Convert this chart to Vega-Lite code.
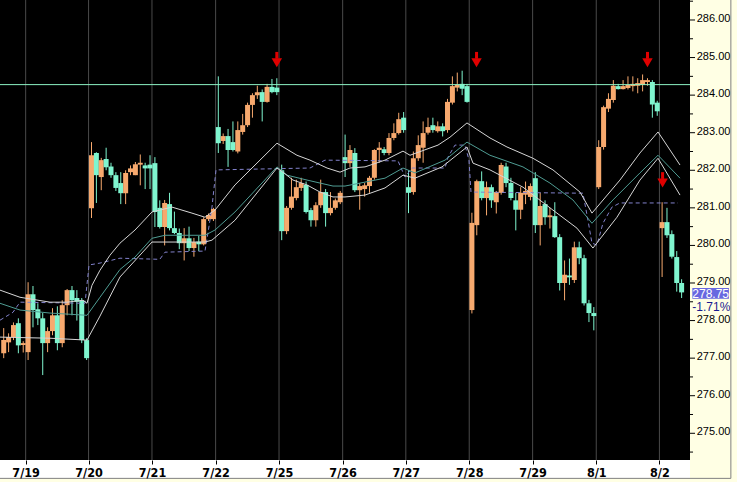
{
  "$schema": "https://vega.github.io/schema/vega-lite/v6.json",
  "width": 690,
  "height": 460,
  "autosize": {"type": "none"},
  "padding": {"left": 0, "top": 0, "right": 47, "bottom": 22},
  "background": "#FFFFE4",
  "view": {"fill": "#000000", "stroke": null},
  "config": {
    "axisX": {"labelColor": "#000000", "tickColor": "#000000"}
  },
  "datasets": {
    "days": [
      {"d": "7/19", "g": -0.5}, {"d": "7/20", "g": 12.4}, {"d": "7/21", "g": 25.4}, {"d": "7/22", "g": 38.45},
      {"d": "7/25", "g": 51.45}, {"d": "7/26", "g": 64.5}, {"d": "7/27", "g": 77.45}, {"d": "7/28", "g": 90.45},
      {"d": "7/29", "g": 103.45}, {"d": "8/1", "g": 116.5}, {"d": "8/2", "g": 129.45}
    ],
    "ymaj": [
      {"v": 275}, {"v": 276}, {"v": 277}, {"v": 278}, {"v": 279}, {"v": 280},
      {"v": 281}, {"v": 282}, {"v": 283}, {"v": 284}, {"v": 285}, {"v": 286}
    ],
    "ymin": [
      {"v": 274.5}, {"v": 275.5}, {"v": 276.5}, {"v": 277.5}, {"v": 278.5}, {"v": 279.5},
      {"v": 280.5}, {"v": 281.5}, {"v": 282.5}, {"v": 283.5}, {"v": 284.5}, {"v": 285.5}, {"v": 286.5}
    ],
    "bars": [
      {"i": -5, "o": 277.13, "h": 277.8, "l": 277.0, "c": 277.48},
      {"i": -4, "o": 277.42, "h": 277.66, "l": 277.16, "c": 277.56},
      {"i": -3, "o": 277.56, "h": 277.95, "l": 277.48, "c": 277.88},
      {"i": -2, "o": 277.93, "h": 278.06, "l": 277.13, "c": 277.34},
      {"i": -1, "o": 277.35, "h": 277.45, "l": 277.15, "c": 277.4},
      {"i": 0, "o": 277.16, "h": 279.02, "l": 276.95, "c": 278.7},
      {"i": 1, "o": 278.7, "h": 278.92, "l": 277.82, "c": 278.28},
      {"i": 2, "o": 278.3, "h": 278.46, "l": 277.88, "c": 278.06},
      {"i": 3, "o": 278.06, "h": 278.2, "l": 276.55, "c": 277.4},
      {"i": 4, "o": 277.4, "h": 277.82, "l": 277.16, "c": 277.72},
      {"i": 5, "o": 277.72, "h": 278.33, "l": 277.61, "c": 278.14},
      {"i": 6, "o": 278.14, "h": 278.38, "l": 277.21, "c": 277.4},
      {"i": 7, "o": 277.4, "h": 278.54, "l": 277.29, "c": 278.41},
      {"i": 8, "o": 278.41, "h": 278.84, "l": 278.14, "c": 278.81},
      {"i": 9, "o": 278.81, "h": 278.92, "l": 278.14, "c": 278.54},
      {"i": 10, "o": 278.6, "h": 278.81, "l": 278.0, "c": 278.5},
      {"i": 11, "o": 278.54, "h": 278.6, "l": 277.4, "c": 277.48},
      {"i": 12, "o": 277.48, "h": 277.53, "l": 276.95, "c": 277.0},
      {"i": 13, "o": 280.99, "h": 282.75, "l": 280.73, "c": 282.4},
      {"i": 14, "o": 282.46, "h": 282.48, "l": 281.13, "c": 281.87},
      {"i": 15, "o": 281.82, "h": 282.33, "l": 281.47, "c": 282.27},
      {"i": 16, "o": 282.3, "h": 282.6, "l": 282.0, "c": 282.08},
      {"i": 17, "o": 282.1, "h": 282.2, "l": 281.8, "c": 281.87},
      {"i": 18, "o": 281.87, "h": 281.95, "l": 281.45, "c": 281.53},
      {"i": 19, "o": 281.66, "h": 281.95, "l": 281.1, "c": 281.39},
      {"i": 20, "o": 281.39, "h": 282.0, "l": 281.1, "c": 281.93},
      {"i": 21, "o": 281.95, "h": 282.13, "l": 281.87, "c": 282.05},
      {"i": 22, "o": 281.87, "h": 282.22, "l": 281.87, "c": 282.16},
      {"i": 23, "o": 282.15, "h": 282.42, "l": 281.6, "c": 282.2},
      {"i": 24, "o": 282.13, "h": 282.2, "l": 281.5, "c": 282.05},
      {"i": 25, "o": 282.15, "h": 282.4, "l": 281.5, "c": 282.05},
      {"i": 26, "o": 282.19, "h": 282.35, "l": 280.49, "c": 280.89},
      {"i": 27, "o": 281.0, "h": 281.2, "l": 280.45, "c": 280.49},
      {"i": 28, "o": 280.49, "h": 281.21, "l": 280.0, "c": 281.13},
      {"i": 29, "o": 281.1, "h": 281.4, "l": 280.4, "c": 280.46},
      {"i": 30, "o": 280.46, "h": 280.9, "l": 280.3, "c": 280.33},
      {"i": 31, "o": 280.33, "h": 280.45, "l": 279.9, "c": 280.06},
      {"i": 32, "o": 280.06, "h": 280.46, "l": 279.6, "c": 280.19},
      {"i": 33, "o": 280.19, "h": 280.5, "l": 279.85, "c": 279.93},
      {"i": 34, "o": 279.93, "h": 280.2, "l": 279.7, "c": 280.09},
      {"i": 35, "o": 280.1, "h": 280.25, "l": 279.85, "c": 280.03},
      {"i": 36, "o": 280.03, "h": 280.75, "l": 280.0, "c": 280.7},
      {"i": 37, "o": 280.7, "h": 280.85, "l": 280.65, "c": 280.81},
      {"i": 38, "o": 280.7, "h": 281.0, "l": 280.65, "c": 280.97},
      {"i": 39, "o": 283.15, "h": 284.5, "l": 282.46, "c": 282.72},
      {"i": 40, "o": 282.78, "h": 282.98, "l": 282.7, "c": 282.91},
      {"i": 41, "o": 282.91, "h": 283.1, "l": 282.09, "c": 282.54},
      {"i": 42, "o": 282.75, "h": 283.3, "l": 282.5, "c": 282.54},
      {"i": 43, "o": 282.5, "h": 283.3, "l": 282.45, "c": 283.07},
      {"i": 44, "o": 283.02, "h": 283.5, "l": 282.95, "c": 283.2},
      {"i": 45, "o": 283.2, "h": 283.8, "l": 283.15, "c": 283.74},
      {"i": 46, "o": 283.74, "h": 284.05, "l": 283.4, "c": 284.0},
      {"i": 47, "o": 284.0, "h": 284.25, "l": 283.9, "c": 284.08},
      {"i": 48, "o": 284.08, "h": 284.15, "l": 283.3, "c": 283.82},
      {"i": 49, "o": 283.82, "h": 284.3, "l": 283.8, "c": 284.22},
      {"i": 50, "o": 284.22, "h": 284.43, "l": 284.05, "c": 284.08},
      {"i": 51, "o": 284.2, "h": 284.45, "l": 284.0, "c": 284.08},
      {"i": 52, "o": 282.0, "h": 282.15, "l": 280.14, "c": 280.38},
      {"i": 53, "o": 280.38, "h": 281.05, "l": 280.3, "c": 281.0},
      {"i": 54, "o": 281.0, "h": 281.8, "l": 280.95, "c": 281.3},
      {"i": 55, "o": 281.26, "h": 281.75, "l": 281.2, "c": 281.55},
      {"i": 56, "o": 281.53, "h": 281.8, "l": 281.45, "c": 281.66},
      {"i": 57, "o": 281.61, "h": 281.7, "l": 280.85, "c": 280.89},
      {"i": 58, "o": 280.94, "h": 281.0, "l": 280.5, "c": 280.67},
      {"i": 59, "o": 280.67, "h": 281.15, "l": 280.5, "c": 281.07},
      {"i": 60, "o": 281.07, "h": 281.75, "l": 281.0, "c": 281.42},
      {"i": 61, "o": 281.42, "h": 281.5, "l": 280.5, "c": 280.86},
      {"i": 62, "o": 280.86, "h": 281.42, "l": 280.8, "c": 281.0},
      {"i": 63, "o": 281.0, "h": 281.25, "l": 280.95, "c": 281.2},
      {"i": 64, "o": 281.15, "h": 281.45, "l": 281.1, "c": 281.4},
      {"i": 65, "o": 282.35, "h": 282.95, "l": 281.82, "c": 282.19},
      {"i": 66, "o": 282.19, "h": 282.67, "l": 282.09, "c": 282.54},
      {"i": 67, "o": 282.46, "h": 282.59, "l": 281.42, "c": 281.47},
      {"i": 68, "o": 281.47, "h": 281.66, "l": 280.95, "c": 281.58},
      {"i": 69, "o": 281.5, "h": 281.66, "l": 281.3, "c": 281.6},
      {"i": 70, "o": 281.58, "h": 281.85, "l": 281.4, "c": 281.8},
      {"i": 71, "o": 281.8, "h": 282.56, "l": 281.75, "c": 282.54},
      {"i": 72, "o": 282.54, "h": 282.75, "l": 282.2, "c": 282.6},
      {"i": 73, "o": 282.56, "h": 282.62, "l": 282.4, "c": 282.46},
      {"i": 74, "o": 282.46, "h": 282.99, "l": 282.4, "c": 282.86},
      {"i": 75, "o": 282.86, "h": 283.25, "l": 282.8, "c": 282.99},
      {"i": 76, "o": 282.99, "h": 283.53, "l": 282.95, "c": 283.36},
      {"i": 77, "o": 283.4, "h": 283.55, "l": 283.0, "c": 283.07},
      {"i": 78, "o": 281.55, "h": 282.0, "l": 280.86, "c": 281.4},
      {"i": 79, "o": 281.42, "h": 282.5, "l": 281.35, "c": 282.32},
      {"i": 80, "o": 282.32, "h": 282.93, "l": 282.25, "c": 282.67},
      {"i": 81, "o": 282.6, "h": 283.3, "l": 282.2, "c": 282.99},
      {"i": 82, "o": 283.0, "h": 283.4, "l": 282.95, "c": 283.15},
      {"i": 83, "o": 283.2, "h": 283.4, "l": 283.0, "c": 283.07},
      {"i": 84, "o": 283.04, "h": 283.3, "l": 283.0, "c": 283.17},
      {"i": 85, "o": 283.17, "h": 283.25, "l": 282.9, "c": 283.04},
      {"i": 86, "o": 283.07, "h": 283.9, "l": 283.0, "c": 283.82},
      {"i": 87, "o": 283.8, "h": 284.5, "l": 283.75, "c": 284.24},
      {"i": 88, "o": 284.2, "h": 284.6, "l": 284.1, "c": 284.28},
      {"i": 89, "o": 284.3, "h": 284.65, "l": 284.0, "c": 284.17},
      {"i": 90, "o": 284.24, "h": 284.3, "l": 283.8, "c": 283.82},
      {"i": 91, "o": 278.28, "h": 280.87, "l": 278.19, "c": 280.6},
      {"i": 92, "o": 280.54, "h": 281.75, "l": 280.27, "c": 281.71},
      {"i": 93, "o": 281.71, "h": 281.97, "l": 281.2, "c": 281.26},
      {"i": 94, "o": 281.26, "h": 281.7, "l": 280.8, "c": 281.55},
      {"i": 95, "o": 281.55, "h": 281.62, "l": 281.0, "c": 281.2},
      {"i": 96, "o": 281.15, "h": 281.45, "l": 280.85, "c": 281.42},
      {"i": 97, "o": 281.4, "h": 282.2, "l": 281.35, "c": 282.14},
      {"i": 98, "o": 282.1, "h": 282.2, "l": 281.55, "c": 281.66},
      {"i": 99, "o": 281.66, "h": 281.8, "l": 281.2, "c": 281.26},
      {"i": 100, "o": 281.2, "h": 281.4, "l": 280.4, "c": 280.95},
      {"i": 101, "o": 280.95, "h": 281.55, "l": 280.7, "c": 281.4},
      {"i": 102, "o": 281.35, "h": 281.7, "l": 281.1, "c": 281.45},
      {"i": 103, "o": 281.29, "h": 281.65, "l": 281.2, "c": 281.58},
      {"i": 104, "o": 281.79, "h": 281.95, "l": 280.33, "c": 280.54},
      {"i": 105, "o": 280.54, "h": 281.4, "l": 280.0, "c": 281.05},
      {"i": 106, "o": 281.1, "h": 281.2, "l": 280.55, "c": 280.75},
      {"i": 107, "o": 280.75, "h": 281.0, "l": 280.45, "c": 280.8},
      {"i": 108, "o": 280.78, "h": 281.15, "l": 280.2, "c": 280.22},
      {"i": 109, "o": 280.22, "h": 280.3, "l": 278.8, "c": 279.0},
      {"i": 110, "o": 279.0, "h": 279.6, "l": 278.54, "c": 279.22},
      {"i": 111, "o": 279.2, "h": 279.65, "l": 278.95, "c": 279.15},
      {"i": 112, "o": 279.08, "h": 280.1, "l": 279.0, "c": 279.95},
      {"i": 113, "o": 279.95, "h": 280.1, "l": 279.5, "c": 279.66},
      {"i": 114, "o": 279.66, "h": 279.75, "l": 278.4, "c": 278.46},
      {"i": 115, "o": 278.46, "h": 278.55, "l": 277.96, "c": 278.2},
      {"i": 116, "o": 278.2, "h": 278.36, "l": 277.74, "c": 278.12},
      {"i": 117, "o": 281.55, "h": 282.8, "l": 281.5, "c": 282.62},
      {"i": 118, "o": 282.62, "h": 283.72, "l": 282.55, "c": 283.68},
      {"i": 119, "o": 283.64, "h": 284.05, "l": 283.55, "c": 283.9},
      {"i": 120, "o": 283.87, "h": 284.4, "l": 283.8, "c": 284.25},
      {"i": 121, "o": 284.24, "h": 284.3, "l": 284.15, "c": 284.16},
      {"i": 122, "o": 284.16, "h": 284.4, "l": 284.15, "c": 284.24},
      {"i": 123, "o": 284.19, "h": 284.5, "l": 284.15, "c": 284.27},
      {"i": 124, "o": 284.24, "h": 284.5, "l": 284.1, "c": 284.3},
      {"i": 125, "o": 284.25, "h": 284.45, "l": 284.05, "c": 284.32},
      {"i": 126, "o": 284.27, "h": 284.55, "l": 284.1, "c": 284.4},
      {"i": 127, "o": 284.35, "h": 284.45, "l": 284.25, "c": 284.4},
      {"i": 128, "o": 284.35, "h": 284.4, "l": 283.4, "c": 283.75},
      {"i": 129, "o": 283.8, "h": 283.85, "l": 283.45, "c": 283.57},
      {"i": 130, "o": 280.46, "h": 281.15, "l": 279.16, "c": 280.62},
      {"i": 131, "o": 280.62, "h": 281.0, "l": 280.2, "c": 280.27},
      {"i": 132, "o": 280.3, "h": 280.4, "l": 279.65, "c": 279.7},
      {"i": 133, "o": 279.69, "h": 279.85, "l": 278.77, "c": 279.0},
      {"i": 134, "o": 279.0, "h": 279.1, "l": 278.6, "c": 278.75}
    ],
    "bands": [
      {"s": "u", "i": -5.76, "p": 278.81}, {"s": "u", "i": -1.66, "p": 278.62}, {"s": "u", "i": 4.49, "p": 278.49},
      {"s": "u", "i": 7.98, "p": 278.49}, {"s": "u", "i": 11.26, "p": 278.54}, {"s": "u", "i": 12.08, "p": 278.46},
      {"s": "u", "i": 13.1, "p": 278.94}, {"s": "u", "i": 14.74, "p": 279.34}, {"s": "u", "i": 16.79, "p": 279.74},
      {"s": "u", "i": 18.84, "p": 280.06}, {"s": "u", "i": 21.92, "p": 280.41}, {"s": "u", "i": 25.4, "p": 280.89},
      {"s": "u", "i": 29.5, "p": 281.02}, {"s": "u", "i": 33.6, "p": 280.86}, {"s": "u", "i": 36.27, "p": 280.75},
      {"s": "u", "i": 38.32, "p": 280.94}, {"s": "u", "i": 42.42, "p": 281.61}, {"s": "u", "i": 51.03, "p": 282.72},
      {"s": "u", "i": 55.13, "p": 282.4}, {"s": "u", "i": 57.8, "p": 282.27}, {"s": "u", "i": 61.3, "p": 282.06},
      {"s": "u", "i": 63.96, "p": 281.95}, {"s": "u", "i": 66.0, "p": 282.06}, {"s": "u", "i": 69.08, "p": 282.09},
      {"s": "u", "i": 73.18, "p": 282.27}, {"s": "u", "i": 76.87, "p": 282.51}, {"s": "u", "i": 78.31, "p": 282.4},
      {"s": "u", "i": 84.05, "p": 282.67}, {"s": "u", "i": 86.5, "p": 282.88}, {"s": "u", "i": 89.99, "p": 283.26},
      {"s": "u", "i": 94.71, "p": 282.86}, {"s": "u", "i": 98.19, "p": 282.62}, {"s": "u", "i": 103.52, "p": 282.32},
      {"s": "u", "i": 107.62, "p": 282.01}, {"s": "u", "i": 113.16, "p": 281.42}, {"s": "u", "i": 115.62, "p": 280.86},
      {"s": "u", "i": 121.36, "p": 281.74}, {"s": "u", "i": 125.46, "p": 282.46}, {"s": "u", "i": 129.16, "p": 283.02},
      {"s": "u", "i": 131.62, "p": 282.54}, {"s": "u", "i": 133.67, "p": 282.14},
      {"s": "m", "i": -5.76, "p": 278.46}, {"s": "m", "i": -1.66, "p": 278.28}, {"s": "m", "i": 4.49, "p": 278.2},
      {"s": "m", "i": 12.08, "p": 278.14}, {"s": "m", "i": 14.74, "p": 278.62}, {"s": "m", "i": 18.84, "p": 279.36},
      {"s": "m", "i": 21.92, "p": 279.69}, {"s": "m", "i": 25.4, "p": 280.19}, {"s": "m", "i": 28.07, "p": 280.27},
      {"s": "m", "i": 36.27, "p": 280.27}, {"s": "m", "i": 38.32, "p": 280.41}, {"s": "m", "i": 42.42, "p": 280.89},
      {"s": "m", "i": 51.03, "p": 282.09}, {"s": "m", "i": 53.08, "p": 281.87}, {"s": "m", "i": 57.19, "p": 281.74},
      {"s": "m", "i": 62.52, "p": 281.58}, {"s": "m", "i": 64.98, "p": 281.58}, {"s": "m", "i": 73.18, "p": 281.79},
      {"s": "m", "i": 76.87, "p": 282.06}, {"s": "m", "i": 79.33, "p": 281.93}, {"s": "m", "i": 85.49, "p": 282.27},
      {"s": "m", "i": 89.99, "p": 282.75}, {"s": "m", "i": 94.71, "p": 282.4}, {"s": "m", "i": 101.47, "p": 282.09},
      {"s": "m", "i": 107.01, "p": 281.66}, {"s": "m", "i": 111.72, "p": 281.21}, {"s": "m", "i": 115.62, "p": 280.59},
      {"s": "m", "i": 119.92, "p": 281.21}, {"s": "m", "i": 125.46, "p": 281.93}, {"s": "m", "i": 129.16, "p": 282.4},
      {"s": "m", "i": 133.67, "p": 281.79},
      {"s": "l", "i": -5.76, "p": 277.56}, {"s": "l", "i": 4.49, "p": 277.53}, {"s": "l", "i": 12.08, "p": 277.48},
      {"s": "l", "i": 14.74, "p": 278.12}, {"s": "l", "i": 18.84, "p": 279.16}, {"s": "l", "i": 25.4, "p": 280.09},
      {"s": "l", "i": 36.27, "p": 280.09}, {"s": "l", "i": 37.7, "p": 280.14}, {"s": "l", "i": 42.42, "p": 280.67},
      {"s": "l", "i": 51.03, "p": 282.06}, {"s": "l", "i": 52.26, "p": 281.95}, {"s": "l", "i": 54.31, "p": 281.74},
      {"s": "l", "i": 57.19, "p": 281.61}, {"s": "l", "i": 59.85, "p": 281.42}, {"s": "l", "i": 62.52, "p": 281.29},
      {"s": "l", "i": 64.98, "p": 281.29}, {"s": "l", "i": 69.08, "p": 281.34}, {"s": "l", "i": 73.18, "p": 281.53},
      {"s": "l", "i": 76.87, "p": 281.87}, {"s": "l", "i": 79.33, "p": 281.79}, {"s": "l", "i": 84.87, "p": 282.09},
      {"s": "l", "i": 89.99, "p": 282.62}, {"s": "l", "i": 91.22, "p": 282.19}, {"s": "l", "i": 94.71, "p": 282.01},
      {"s": "l", "i": 101.47, "p": 281.55}, {"s": "l", "i": 107.62, "p": 280.94}, {"s": "l", "i": 112.54, "p": 280.46},
      {"s": "l", "i": 115.82, "p": 279.93}, {"s": "l", "i": 120.74, "p": 280.75}, {"s": "l", "i": 125.46, "p": 281.74},
      {"s": "l", "i": 129.16, "p": 282.32}, {"s": "l", "i": 133.67, "p": 281.34}
    ],
    "dash": [
      {"i": -5.76, "p": 278.01}, {"i": -3.1, "p": 278.22}, {"i": -1.66, "p": 278.49}, {"i": 11.67, "p": 278.46},
      {"i": 12.5, "p": 279.48}, {"i": 14.74, "p": 279.53}, {"i": 18.84, "p": 279.66}, {"i": 27.0, "p": 279.63},
      {"i": 28.07, "p": 279.82}, {"i": 36.27, "p": 279.85}, {"i": 36.88, "p": 280.33}, {"i": 37.7, "p": 281.02},
      {"i": 38.53, "p": 282.01}, {"i": 57.8, "p": 282.06}, {"i": 60.88, "p": 282.27}, {"i": 75.85, "p": 282.25},
      {"i": 77.28, "p": 281.82}, {"i": 78.72, "p": 282.06}, {"i": 85.49, "p": 282.06}, {"i": 86.1, "p": 282.35},
      {"i": 87.53, "p": 282.67}, {"i": 89.58, "p": 282.67}, {"i": 90.4, "p": 282.27}, {"i": 90.81, "p": 281.42},
      {"i": 113.77, "p": 281.39}, {"i": 114.8, "p": 280.67}, {"i": 115.62, "p": 280.06}, {"i": 116.64, "p": 280.01},
      {"i": 117.87, "p": 280.59}, {"i": 119.72, "p": 281.02}, {"i": 121.36, "p": 281.13}, {"i": 133.26, "p": 281.13}
    ],
    "arrows": [
      {"i": 51.0, "top": 285.15, "neck": 284.97, "head": 284.86},
      {"i": 91.95, "top": 285.15, "neck": 284.97, "head": 284.86},
      {"i": 127.0, "top": 285.15, "neck": 284.97, "head": 284.86},
      {"i": 130.1, "top": 281.95, "neck": 281.77, "head": 281.66}
    ]
  },
  "layer": [
    {
      "data": {"name": "days"},
      "mark": {"type": "rule", "color": "#4a4a4a", "strokeWidth": 1},
      "encoding": {
        "x": {
          "field": "g", "type": "quantitative",
          "scale": {"domain": [-5.762, 135.72], "nice": false, "zero": false, "padding": 0},
          "axis": {
            "title": null, "grid": false, "domain": false, "zindex": 1,
            "values": [-0.5, 12.4, 25.4, 38.45, 51.45, 64.5, 77.45, 90.45, 103.45, 116.5, 129.45],
            "labelExpr": "['7/19','7/20','7/21','7/22','7/25','7/26','7/27','7/28','7/29','8/1','8/2'][round((datum.value + 0.5) / 13)]",
            "tickSize": 4,
            "labelFont": "Liberation Sans Narrow, Arial Narrow, DejaVu Sans Condensed", "labelFontWeight": "bold",
            "labelFontSize": 12.5, "labelPadding": 2, "labelFlush": false, "labelOverlap": false
          }
        }
      }
    },
    {
      "data": {"values": [{}]},
      "mark": {"type": "rect", "clip": false, "color": "#FFFFFF"},
      "encoding": {
        "x": {"datum": -5.762, "type": "quantitative"},
        "x2": {"datum": 135.72},
        "y": {"datum": 274.289, "type": "quantitative", "axis": null},
        "y2": {"datum": 273.80}
      }
    },
    {
      "data": {"name": "bars"},
      "mark": {"type": "rule", "strokeWidth": 1, "clip": true},
      "encoding": {
        "x": {"field": "i", "type": "quantitative", "scale": {"domain": [-5.762, 135.72], "nice": false, "zero": false, "padding": 0}},
        "y": {"field": "l", "type": "quantitative", "axis": null, "scale": {"domain": [274.289, 286.532], "nice": false, "zero": false}},
        "y2": {"field": "h"},
        "color": {"condition": {"test": "datum.c >= datum.o", "value": "#F7A96E"}, "value": "#7FF5CF"}
      }
    },
    {
      "data": {"name": "bars"},
      "mark": {"type": "bar", "size": 5, "clip": true, "orient": "vertical"},
      "encoding": {
        "x": {"field": "i", "type": "quantitative"},
        "y": {"field": "o", "type": "quantitative", "axis": null},
        "y2": {"field": "c"},
        "color": {"condition": {"test": "datum.c >= datum.o", "value": "#F7A96E"}, "value": "#7FF5CF"}
      }
    },
    {
      "data": {"name": "dash"},
      "mark": {"type": "line", "color": "#8282CC", "strokeWidth": 1, "strokeDash": [4, 3], "clip": true},
      "encoding": {
        "x": {"field": "i", "type": "quantitative"},
        "y": {"field": "p", "type": "quantitative", "axis": null}
      }
    },
    {
      "data": {"name": "bands"},
      "mark": {"type": "line", "strokeWidth": 1, "clip": true},
      "encoding": {
        "x": {"field": "i", "type": "quantitative"},
        "y": {"field": "p", "type": "quantitative", "axis": null},
        "color": {"field": "s", "type": "nominal", "scale": {"domain": ["u", "m", "l"], "range": ["#D6D6D6", "#4F9C93", "#D6D6D6"]}, "legend": null}
      }
    },
    {
      "data": {"values": [{}]},
      "mark": {"type": "rule", "color": "#8CF2C4", "strokeWidth": 1},
      "encoding": {"y": {"datum": 284.28, "type": "quantitative", "axis": null}}
    },
    {
      "data": {"name": "arrows"},
      "mark": {"type": "rule", "color": "#E00000", "strokeWidth": 3},
      "encoding": {
        "x": {"field": "i", "type": "quantitative"},
        "y": {"field": "top", "type": "quantitative", "axis": null},
        "y2": {"field": "neck"}
      }
    },
    {
      "data": {"name": "arrows"},
      "mark": {"type": "point", "shape": "triangle-down", "filled": true, "color": "#E00000", "size": 110, "opacity": 1},
      "encoding": {
        "x": {"field": "i", "type": "quantitative"},
        "y": {"field": "head", "type": "quantitative", "axis": null}
      }
    },
    {
      "data": {"name": "ymaj"},
      "mark": {"type": "rule", "clip": false, "color": "#000000", "strokeWidth": 1},
      "encoding": {
        "x": {"datum": 135.72, "type": "quantitative"},
        "x2": {"datum": 136.75},
        "y": {"field": "v", "type": "quantitative", "axis": null}
      }
    },
    {
      "data": {"name": "ymin"},
      "mark": {"type": "rule", "clip": false, "color": "#000000", "strokeWidth": 1},
      "encoding": {
        "x": {"datum": 135.72, "type": "quantitative"},
        "x2": {"datum": 136.34},
        "y": {"field": "v", "type": "quantitative", "axis": null}
      }
    },
    {
      "data": {"name": "ymaj"},
      "mark": {"type": "text", "clip": false, "color": "#000000", "font": "Liberation Sans", "fontSize": 11, "align": "left", "baseline": "middle", "dy": -1},
      "encoding": {
        "x": {"datum": 137.1, "type": "quantitative"},
        "y": {"field": "v", "type": "quantitative", "axis": null},
        "text": {"field": "v", "type": "quantitative", "format": ".2f"}
      }
    },
    {
      "data": {"values": [{}]},
      "mark": {"type": "rect", "clip": false, "color": "#6868E0"},
      "encoding": {
        "x": {"datum": 136.2, "type": "quantitative"},
        "x2": {"datum": 143.7},
        "y": {"datum": 278.58, "type": "quantitative", "axis": null},
        "y2": {"datum": 278.865}
      }
    },
    {
      "data": {"values": [{}]},
      "mark": {"type": "text", "clip": false, "color": "#FFFFFF", "font": "Liberation Sans", "fontSize": 12, "align": "center", "baseline": "middle", "text": "278.75"},
      "encoding": {
        "x": {"datum": 139.95, "type": "quantitative"},
        "y": {"datum": 278.72, "type": "quantitative", "axis": null}
      }
    },
    {
      "data": {"values": [{}]},
      "mark": {"type": "text", "clip": false, "color": "#1A1A90", "font": "Liberation Sans", "fontSize": 12, "align": "center", "baseline": "middle", "text": "-1.71%"},
      "encoding": {
        "x": {"datum": 140.1, "type": "quantitative"},
        "y": {"datum": 278.36, "type": "quantitative", "axis": null}
      }
    },
    {
      "data": {"values": [{}]},
      "mark": {"type": "rule", "clip": false, "color": "#808080", "strokeWidth": 1},
      "encoding": {
        "x": {"datum": -5.762, "type": "quantitative"},
        "x2": {"datum": 144.1},
        "y": {"datum": 273.80, "type": "quantitative", "axis": null}
      }
    },
    {
      "data": {"values": [{}]},
      "mark": {"type": "rule", "clip": false, "color": "#808080", "strokeWidth": 1},
      "encoding": {
        "x": {"datum": 144.1, "type": "quantitative"},
        "y": {"datum": 286.532, "type": "quantitative", "axis": null},
        "y2": {"datum": 273.80}
      }
    }
  ]
}
